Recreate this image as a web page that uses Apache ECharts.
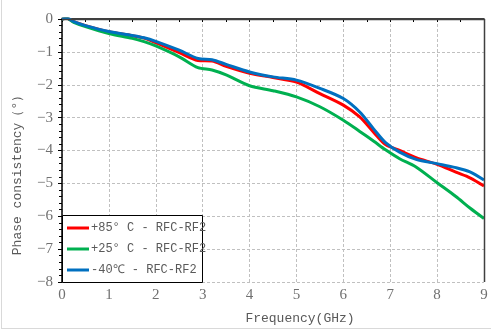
<!DOCTYPE html>
<html>
<head>
<meta charset="utf-8">
<script src="https://cdn.jsdelivr.net/npm/echarts@6/dist/echarts.min.js"></script>
<style>
html,body{margin:0;padding:0;background:#fff;}
#chart{width:491px;height:330px;}
</style>
</head>
<body>
<div id="chart"></div>
<script>
// Frequency sample points (GHz)
var freq = [0, 0.1, 0.25, 0.5, 1.0, 1.5, 1.75, 2.0, 2.5, 2.9, 3.2, 3.5, 4.0, 4.5, 5.0, 5.5, 6.0, 6.35, 6.65, 6.9, 7.2, 7.55, 8.0, 8.4, 8.7, 9.0];
// Phase consistency (deg)
var p85 = [0, 0.02, -0.08, -0.2, -0.39, -0.51, -0.58, -0.72, -1.02, -1.26, -1.28, -1.44, -1.65, -1.78, -1.92, -2.27, -2.62, -2.98, -3.45, -3.82, -4.0, -4.22, -4.42, -4.66, -4.83, -5.08];
var p25 = [0, 0.02, -0.1, -0.23, -0.44, -0.59, -0.69, -0.82, -1.15, -1.48, -1.55, -1.7, -2.03, -2.18, -2.37, -2.67, -3.08, -3.42, -3.72, -3.98, -4.25, -4.5, -4.98, -5.4, -5.75, -6.07];
var m40 = [0, 0.03, -0.08, -0.2, -0.38, -0.5, -0.57, -0.68, -0.95, -1.2, -1.24, -1.38, -1.61, -1.76, -1.86, -2.11, -2.42, -2.83, -3.35, -3.76, -4.05, -4.27, -4.4, -4.52, -4.65, -4.9];
var seriesNames = ['+85° C - RFC-RF2', '+25° C - RFC-RF2', '-40℃ - RFC-RF2'];
var xTitle = 'Frequency(GHz)';
var yTitle = 'Phase consistency（°）';

function pairs(ys){ return freq.map(function(f,i){ return [f, ys[i]]; }); }

var chart = echarts.init(document.getElementById('chart'), null, {renderer:'canvas'});
var txt = '#595959';
var mono = "'Liberation Mono', monospace";
var serif = "'Liberation Serif', serif";
var option = {
  animation: false,
  backgroundColor: '#fff',
  grid: {left: 62, right: 7, top: 19, bottom: 48, show: false},
  xAxis: {
    type: 'value', min: 0, max: 9, interval: 1,
    axisLine: {show: true, lineStyle: {color: '#000', width: 1.5}},
    axisTick: {show: true, length: 3, lineStyle: {color: '#000'}},
    minorTick: {show: true, splitNumber: 2, length: 3, lineStyle: {color: '#000'}},
    axisLabel: {color: '#707070', fontFamily: serif, fontSize: 15, margin: 6},
    splitLine: {show: true, lineStyle: {color: '#c0c0c0', type: [3, 2], width: 1}}
  },
  yAxis: {
    type: 'value', min: -8, max: 0, interval: 1,
    axisLine: {show: true, onZero: false, lineStyle: {color: '#000', width: 1.5}},
    axisTick: {show: true, length: 4, lineStyle: {color: '#000'}},
    minorTick: {show: true, splitNumber: 5, length: 3, lineStyle: {color: '#000'}},
    axisLabel: {color: '#707070', fontFamily: serif, fontSize: 15, margin: 9,
      formatter: function(v){ return v < 0 ? '\u2212' + Math.abs(v) : String(v); }},
    splitLine: {show: true, lineStyle: {color: '#c0c0c0', type: [3, 2], width: 1}}
  },
  legend: {
    orient: 'vertical', left: 67, top: 222, z: 20,
    itemWidth: 22, itemHeight: 3, itemGap: 9, icon: 'rect',
    padding: 0,
    textStyle: {color: txt, fontFamily: mono, fontSize: 12, lineHeight: 12, padding: [0,0,0,-3]},
    data: seriesNames
  },
  graphic: [
    {type: 'rect', z: 10, shape: {x: 62.5, y: 215.5, width: 140, height: 67},
      style: {fill: '#fff', stroke: '#000', lineWidth: 1}},
    {type: 'line', z: 5, shape: {x1: 62, y1: 19.5, x2: 484.5, y2: 19.5}, style: {stroke: '#404040', lineWidth: 1.5}},
    {type: 'line', z: 5, shape: {x1: 484.5, y1: 19, x2: 484.5, y2: 282}, style: {stroke: '#404040', lineWidth: 1.5}},
    {type: 'line', z: 5, shape: {x1: 1.5, y1: 0, x2: 1.5, y2: 329}, style: {stroke: '#d9d9d9', lineWidth: 1}},
    {type: 'line', z: 5, shape: {x1: 1, y1: 328.5, x2: 491, y2: 328.5}, style: {stroke: '#d9d9d9', lineWidth: 1}},
    {type: 'text', z: 5, x: 300, y: 319, style: {text: xTitle, fill: txt, font: "13px 'Liberation Mono', monospace", textAlign: 'center', textVerticalAlign: 'middle'}},
    {type: 'text', z: 5, x: 18, y: 172, rotation: Math.PI/2, style: {text: yTitle, fill: txt, font: "13px 'Liberation Mono', monospace", textAlign: 'center', textVerticalAlign: 'middle'}}
  ],
  series: [
    {name: seriesNames[0], type: 'line', data: pairs(p85), showSymbol: false, smooth: 0.3, color: '#ff0000', lineStyle: {width: 3}, z: 3},
    {name: seriesNames[1], type: 'line', data: pairs(p25), showSymbol: false, smooth: 0.3, color: '#00b050', lineStyle: {width: 3}, z: 3},
    {name: seriesNames[2], type: 'line', data: pairs(m40), showSymbol: false, smooth: 0.3, color: '#0070c0', lineStyle: {width: 3}, z: 4}
  ]
};
chart.setOption(option);
</script>
</body>
</html>
